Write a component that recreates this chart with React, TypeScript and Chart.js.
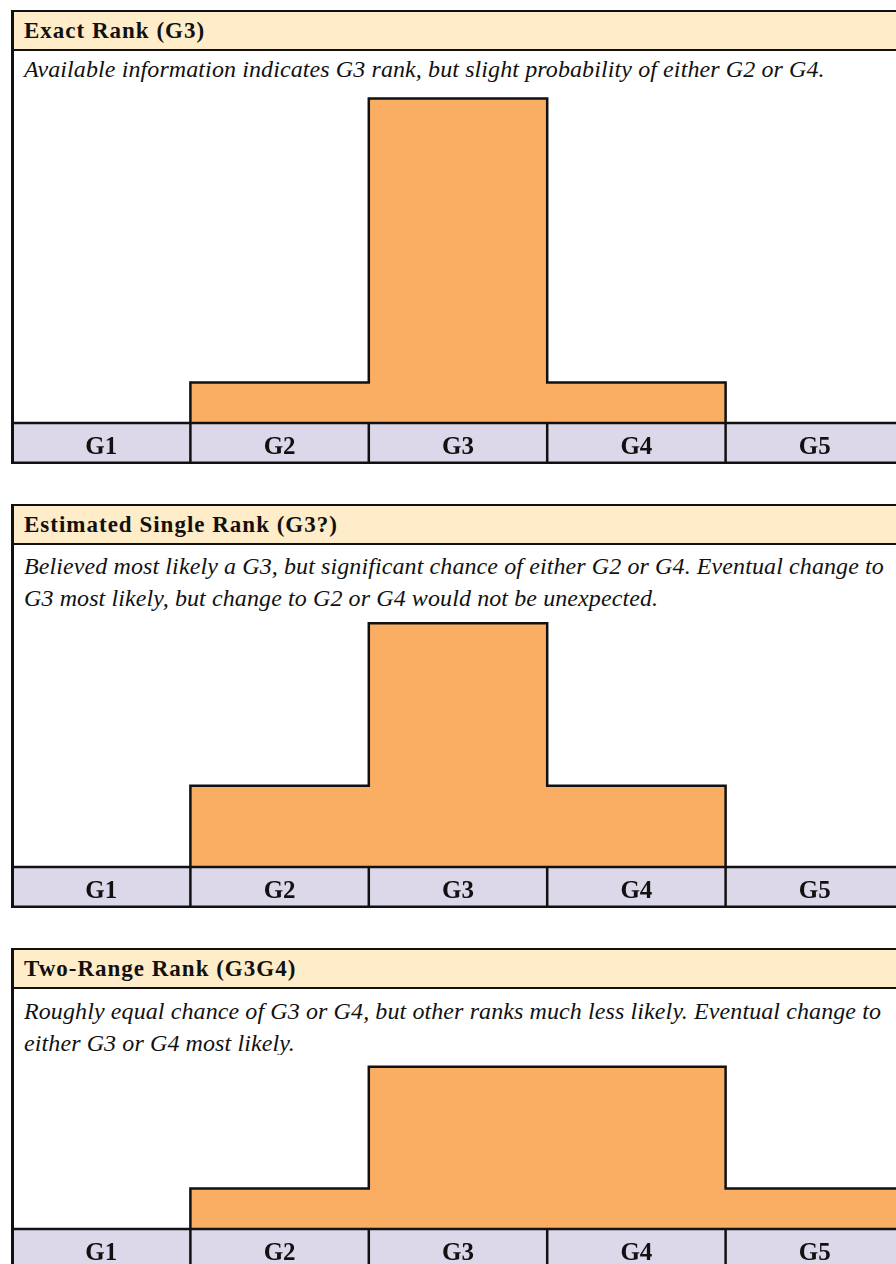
import React, { useEffect, useRef } from "react";
import { Chart, registerables } from "chart.js";

Chart.register(...registerables);

const grades = ["G1", "G2", "G3", "G4", "G5"];

const exactTitle = "Exact Rank (G3)";
const exactDesc = "Available information indicates G3 rank, but slight probability of either G2 or G4.";
const exactValues = [0, 1, 8, 1, 0];

const estimatedTitle = "Estimated Single Rank (G3?)";
const estimatedDesc = "Believed most likely a G3, but significant chance of either G2 or G4. Eventual change to G3 most likely, but change to G2 or G4 would not be unexpected.";
const estimatedValues = [0, 2, 6, 2, 0];

const twoRangeTitle = "Two-Range Rank (G3G4)";
const twoRangeDesc = "Roughly equal chance of G3 or G4, but other ranks much less likely. Eventual change to either G3 or G4 most likely.";
const twoRangeValues = [0, 1, 4, 4, 1];

const ORANGE = "#FAAE63";
const CREAM = "#FFECC8";
const LAVENDER = "#DCD8EA";
const INK = "#111111";
const SERIF = "'Liberation Serif', 'Times New Roman', serif";

const PANEL_LEFT = 12;
const PANEL_WIDTH = 892;
const HEADER_H = 41;
const LINE_H = 32;
const AXIS_H = 41;

const outlinePlugin = {
  id: "stepOutline",
  afterDatasetsDraw(chart: any) {
    const meta = chart.getDatasetMeta(0);
    const els = meta.data as any[];
    const values = chart.data.datasets[0].data as number[];
    const base = chart.scales.y.getPixelForValue(0);
    const ctx = chart.ctx;
    const n = els.length;
    const lefts = els.map((e) => e.x - e.width / 2);
    const rights = els.map((e) => e.x + e.width / 2);
    const tops = els.map((e, i) => (values[i] > 0 ? e.y : base));
    ctx.save();
    ctx.strokeStyle = INK;
    ctx.lineWidth = 2.5;
    ctx.lineCap = "square";
    ctx.beginPath();
    for (let i = 0; i < n; i++) {
      if (values[i] > 0) {
        ctx.moveTo(lefts[i], tops[i]);
        ctx.lineTo(rights[i], tops[i]);
      }
    }
    for (let k = 0; k <= n; k++) {
      const prev = k > 0 ? tops[k - 1] : base;
      const next = k < n ? tops[k] : base;
      const x = k < n ? lefts[k] : rights[n - 1];
      if (Math.abs(prev - next) > 0.5) {
        ctx.moveTo(x, prev);
        ctx.lineTo(x, next);
      }
    }
    ctx.stroke();
    ctx.restore();
  },
};

const labelRowPlugin = {
  id: "labelRow",
  beforeDraw(chart: any) {
    const { ctx, chartArea } = chart;
    ctx.save();
    ctx.fillStyle = "#ffffff";
    ctx.fillRect(0, 0, chart.width, chart.height);
    ctx.fillStyle = LAVENDER;
    ctx.fillRect(0, chartArea.bottom, chart.width, chart.height - chartArea.bottom);
    ctx.restore();
  },
  afterDraw(chart: any) {
    const { ctx, chartArea } = chart;
    const els = chart.getDatasetMeta(0).data as any[];
    const bottom = chart.height - 1.25;
    ctx.save();
    ctx.strokeStyle = INK;
    ctx.lineWidth = 2.5;
    ctx.beginPath();
    ctx.moveTo(0, chartArea.bottom);
    ctx.lineTo(chart.width, chartArea.bottom);
    ctx.moveTo(0, bottom);
    ctx.lineTo(chart.width, bottom);
    for (let i = 1; i < els.length; i++) {
      const x = els[i].x - els[i].width / 2;
      ctx.moveTo(x, chartArea.bottom);
      ctx.lineTo(x, chart.height);
    }
    ctx.stroke();
    ctx.restore();
  },
};

type PanelProps = {
  top: number;
  title: string;
  desc: string;
  lines: number;
  descOffset: number;
  values: number[];
  yMax: number;
};

function Panel({ top, title, desc, lines, descOffset, values, yMax }: PanelProps) {
  const ref = useRef<HTMLCanvasElement | null>(null);
  const descTop = top + HEADER_H;
  const canvasTop = descTop + 2 + lines * LINE_H;
  const plotH = Math.round(yMax * 40.6);
  const canvasH = plotH + AXIS_H;

  useEffect(() => {
    if (!ref.current) return;
    const chart = new Chart(ref.current, {
      type: "bar",
      data: {
        labels: grades,
        datasets: [
          {
            data: values,
            backgroundColor: ORANGE,
            borderWidth: 0,
            barPercentage: 1,
            categoryPercentage: 1,
          },
        ],
      },
      options: {
        responsive: false,
        animation: false,
        devicePixelRatio: 1,
        layout: { padding: 0 },
        plugins: { legend: { display: false }, tooltip: { enabled: false }, title: { display: false } },
        scales: {
          x: {
            display: true,
            offset: true,
            grid: { display: false, drawTicks: false },
            border: { display: false },
            ticks: {
              color: INK,
              padding: 10,
              font: { family: SERIF, size: 25, weight: "bold" },
              maxRotation: 0,
            },
            afterFit: (scale: any) => {
              scale.height = AXIS_H;
            },
          },
          y: {
            display: false,
            min: 0,
            max: yMax,
          },
        },
      },
      plugins: [labelRowPlugin, outlinePlugin],
    } as any);
    return () => chart.destroy();
  }, [values, yMax]);

  return (
    <>
      <div
        style={{
          position: "absolute",
          left: PANEL_LEFT,
          top,
          width: PANEL_WIDTH,
          height: HEADER_H,
          boxSizing: "border-box",
          borderTop: `2px solid ${INK}`,
          borderBottom: `2px solid ${INK}`,
          background: CREAM,
          display: "flex",
          alignItems: "center",
          paddingLeft: 12,
          fontFamily: SERIF,
          fontWeight: "bold",
          fontSize: 23,
          letterSpacing: 1,
          color: INK,
          whiteSpace: "nowrap",
        }}
      >
        {title}
      </div>
      <div
        style={{
          position: "absolute",
          left: PANEL_LEFT,
          top: descTop + descOffset,
          width: 872,
          paddingLeft: 12,
          fontFamily: SERIF,
          fontStyle: "italic",
          fontSize: 24,
          letterSpacing: 0.1,
          lineHeight: `${LINE_H}px`,
          color: INK,
        }}
      >
        {desc}
      </div>
      <canvas
        ref={ref}
        width={PANEL_WIDTH}
        height={canvasH}
        style={{ position: "absolute", left: PANEL_LEFT, top: canvasTop, width: PANEL_WIDTH, height: canvasH }}
      />
      <div
        style={{
          position: "absolute",
          left: 11,
          top,
          width: 3,
          height: canvasTop + canvasH - top,
          background: INK,
        }}
      />
    </>
  );
}

export default function App() {
  return (
    <div
      style={{
        position: "absolute",
        left: 0,
        top: 0,
        width: 896,
        height: 1264,
        overflow: "hidden",
        background: "#ffffff",
      }}
    >
      <Panel top={10} title={exactTitle} desc={exactDesc} lines={1} descOffset={2} values={exactValues} yMax={8.33} />
      <Panel top={504} title={estimatedTitle} desc={estimatedDesc} lines={2} descOffset={5} values={estimatedValues} yMax={6.3} />
      <Panel top={948} title={twoRangeTitle} desc={twoRangeDesc} lines={2} descOffset={6} values={twoRangeValues} yMax={4.29} />
    </div>
  );
}
